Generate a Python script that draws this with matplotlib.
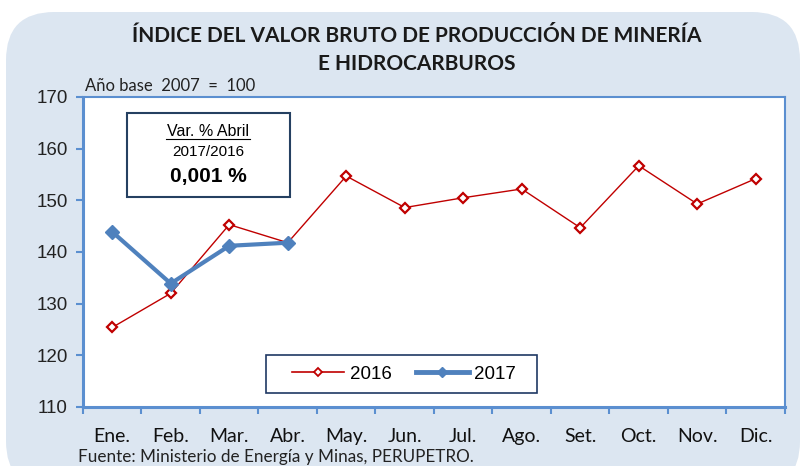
import matplotlib.pyplot as plt
from matplotlib.patches import FancyBboxPatch, Rectangle
from matplotlib.lines import Line2D

meses = ['Ene.', 'Feb.', 'Mar.', 'Abr.', 'May.', 'Jun.', 'Jul.', 'Ago.',
         'Set.', 'Oct.', 'Nov.', 'Dic.']
serie_2016 = [125.4, 132.0, 145.3, 141.8, 154.7, 148.6, 150.5, 152.2,
              144.7, 156.7, 149.3, 154.2]
serie_2017 = [143.9, 133.9, 141.2, 141.8]
y_ticks = [110, 120, 130, 140, 150, 160, 170]

W, H = 804, 466
fig = plt.figure(figsize=(W / 100, H / 100), dpi=100)
fig.patch.set_facecolor('white')

# fondo celeste redondeado
bg = FancyBboxPatch((6 / W, -0.05), 794 / W, 1.05 - 12 / H,
                    boxstyle='round,pad=0,rounding_size=0.06',
                    transform=fig.transFigure, facecolor='#dce6f1',
                    edgecolor='none', zorder=-5, mutation_aspect=W / H)
fig.patches.append(bg)

ax = fig.add_axes([83 / W, 1 - 407 / H, (785 - 83) / W, (407 - 97) / H])
ax.set_facecolor('white')

x = range(len(meses))
ax.plot(x, serie_2016, color='#c00000', lw=1, marker='D', ms=5,
        mfc='white', mec='#c00000', mew=1.6, zorder=3)
ax.plot(range(len(serie_2017)), serie_2017, color='#4f81bd', lw=3,
        marker='D', ms=7, mfc='#4f81bd', mec='#4f81bd', zorder=4)

ax.set_xlim(-0.5, len(meses) - 0.5)
ax.set_ylim(110, 170)
ax.set_yticks(y_ticks)
ax.set_yticklabels([str(v) for v in y_ticks], fontfamily='Liberation Sans',
                   fontsize=13.5, color='#222222')
ax.set_xticks([i - 0.5 for i in range(len(meses) + 1)])
ax.set_xticklabels([])
for i, m in enumerate(meses):
    ax.text(i, 104.3, m, ha='center', va='center', fontsize=14,
            family='Lato', color='#111111')

for side in ['left', 'bottom']:
    ax.spines[side].set_color('#5b8fd0')
    ax.spines[side].set_linewidth(2.2)
for side in ['top', 'right']:
    ax.spines[side].set_color('#5b8fd0')
    ax.spines[side].set_linewidth(1.5)
ax.tick_params(axis='both', direction='out', color='#5b8fd0', width=1.5, length=5)
ax.tick_params(axis='y', pad=6)

# leyenda con marco propio
frame = Rectangle((266 / W, 1 - 393 / H), 271 / W, 38 / H,
                  transform=fig.transFigure, facecolor='white',
                  edgecolor='#1f3864', lw=1.2, zorder=4.5)
ax.add_artist(frame)
frame.set_clip_on(False)
h16 = Line2D([], [], color='#c00000', lw=1.2, marker='D', ms=4,
             mfc='white', mec='#c00000', mew=1.3)
h17 = Line2D([], [], color='#4f81bd', lw=3.5, marker='D', ms=5.5,
             mfc='#4f81bd', mec='#4f81bd')
leg = ax.legend([h16, h17], ['2016', '2017'], loc='center',
                bbox_to_anchor=(404 / W, 1 - 374 / H),
                bbox_transform=fig.transFigure, ncol=2, frameon=False,
                prop={'family': 'Liberation Sans', 'size': 13.5},
                handlelength=2.8, columnspacing=1.3, handletextpad=0.3)
leg.set_zorder(6)

# cuadro de variacion
box = FancyBboxPatch((127 / W, 1 - 197 / H), 163 / W, 84 / H,
                     boxstyle='square,pad=0', transform=fig.transFigure,
                     facecolor='white', edgecolor='#254061', lw=1.5, zorder=5)
fig.patches.append(box)
fig.text(208 / W, 1 - 131 / H, 'Var. % Abril', ha='center', va='center',
         fontsize=11.5, family='Liberation Sans', zorder=6)
fig.add_artist(plt.Line2D([166 / W, 250 / W], [1 - 139 / H, 1 - 139 / H],
                          color='black', lw=0.8, zorder=6))
fig.text(208 / W, 1 - 152 / H, '2017/2016', ha='center', va='center',
         fontsize=11, family='Liberation Sans', zorder=6)
fig.text(208 / W, 1 - 176 / H, '0,001 %', ha='center', va='center',
         fontsize=15, fontweight='bold', family='Liberation Sans', zorder=6)

fig.text(417 / W, 1 - 36 / H, 'ÍNDICE DEL VALOR BRUTO DE PRODUCCIÓN DE MINERÍA',
         ha='center', va='center', fontsize=15, fontweight='bold',
         family='Lato', color='#1a1a1a')
fig.text(417 / W, 1 - 64 / H, 'E HIDROCARBUROS', ha='center', va='center',
         fontsize=15, fontweight='bold', family='Lato', color='#1a1a1a')
fig.text(85 / W, 1 - 86 / H, 'Año base  2007  =  100', ha='left', va='center',
         fontsize=12, family='Lato', color='#222222')
fig.text(78 / W, 1 - 457 / H, 'Fuente: Ministerio de Energía y Minas, PERUPETRO.',
         ha='left', va='center', fontsize=12.3, family='Lato', color='#222222')

fig.savefig('out.png', dpi=100)
